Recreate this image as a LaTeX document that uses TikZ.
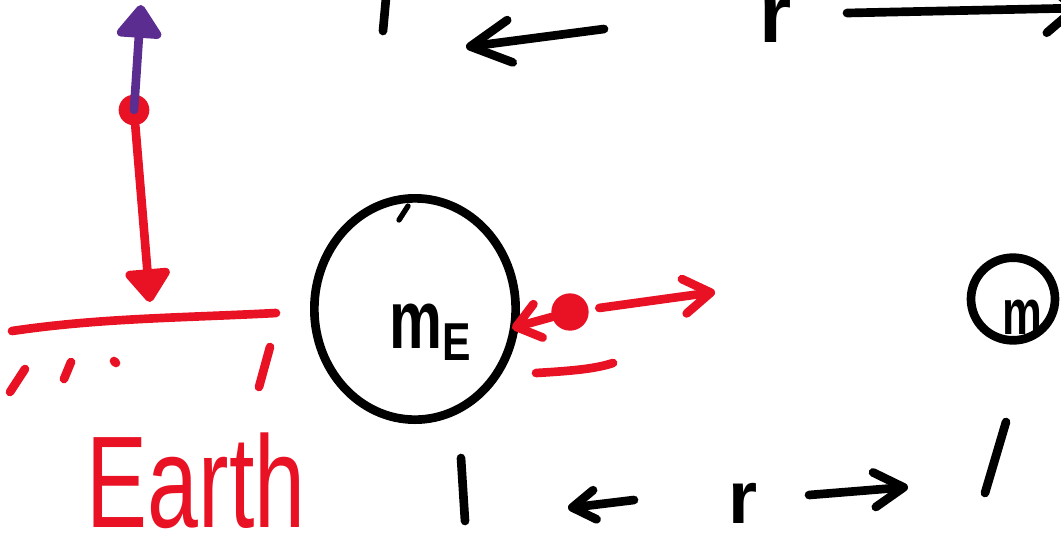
\documentclass[tikz,border=0pt]{standalone}
\usepackage{fontspec}
\setmainfont{Liberation Sans}
\usepackage{tikz}
\usetikzlibrary{arrows.meta, shapes.geometric}
\definecolor{inkred}{HTML}{E81224}
\definecolor{inkpurple}{HTML}{5C2D91}

\begin{document}
\begin{tikzpicture}[
  x=0.75pt, y=-0.75pt,
  every node/.style={inner sep=0pt},
  inkline/.style={line width=6.5pt, line cap=round, line join=round},
  redline/.style={inkline, draw=inkred},
  blackline/.style={inkline, draw=black},
  purpleline/.style={inkline, draw=inkpurple},
  reddot/.style={circle, fill=inkred, inner sep=0pt, minimum size=#1},
  massring/.style={ellipse, draw=black, line width=6.5pt, inner sep=0pt},
  handtext/.style={font=\fontsize{#1}{#1}\selectfont\bfseries},
  handthin/.style={font=\fontsize{#1}{#1}\selectfont},
  headfill/.style={-{Triangle[length=27pt, width=38pt, round]}},
  headbarb/.style 2 args={-{Straight Barb[length=#1, width=#2, round]}}
]
  \useasboundingbox (0,0) rectangle (1061,537);
  \clip (0,0) rectangle (1061,537);

  % Earth surface, test mass and forces
  \node[reddot=23pt] (dotA) at (134,110) {};
  \coordinate (groundtip) at (150,302);
  \coordinate (uptip) at (141,5);
  \draw[redline, headfill] (dotA) -- (groundtip);
  \draw[purpleline, headfill] (dotA.center) -- (uptip);

  \draw[redline] (12,331) .. controls (100,318) and (180,318) .. (276,313);
  \draw[redline] (10,392) -- (25,369);
  \draw[redline] (64,379) -- (71,362);
  \draw[redline] (114,361) -- (116,363);
  \draw[redline] (259,387) -- (270,347);

  \node[handthin=98, text=inkred, anchor=base] (earthlabel) at (196,527)
    {\scalebox{0.7}[1]{Earth}};

  % the big mass
  \node[massring, minimum width=151pt, minimum height=166pt] (mE) at (415,309) {};
  \draw[blackline, line width=4pt] (399,220) -- (408,206);
  \node[handtext=62, anchor=base] (mElabel) at (430,348)
    {\scalebox{0.72}[1]{m}\raisebox{-9pt}{\fontsize{40}{40}\selectfont\scalebox{0.8}[1]{E}}};

  % test mass next to it
  \node[reddot=28pt] (dotB) at (570,312) {};
  \coordinate (mEhit) at (512,328);
  \coordinate (awaytip) at (715,292);
  \draw[redline, headbarb={17pt}{26pt}] (dotB) -- (mEhit);
  \draw[redline, headbarb={20pt}{26pt}, shorten <=8pt] (dotB) -- (awaytip);
  \draw[redline] (536,373) .. controls (570,371) and (595,369) .. (613,363);

  % the small mass
  \node[massring, minimum width=63pt, minimum height=62pt] (mS) at (1013,299) {};
  \node[handtext=48, anchor=base] (mSlabel) at (1022,334) {\scalebox{0.7}[1]{m}};

  % separation r, bottom
  \draw[blackline] (461,458) -- (465,521);
  \draw[blackline] (1006,422) -- (985,493);
  \node[handtext=56, anchor=base] (rbot) at (743,523) {r};
  \coordinate (rbotL1) at (634,500);
  \coordinate (rbotL2) at (568,508);
  \coordinate (rbotR1) at (809,495);
  \coordinate (rbotR2) at (908,487);
  \draw[blackline, headbarb={17pt}{22pt}] (rbotL1) -- (rbotL2);
  \draw[blackline, headbarb={22pt}{26pt}] (rbotR1) -- (rbotR2);

  % separation r, top
  \draw[blackline] (386,-2) -- (383,31);
  \node[handtext=62, anchor=base] (rtop) at (776,42) {r};
  \coordinate (rtopL1) at (604,29);
  \coordinate (rtopL2) at (466,47);
  \coordinate (rtopR1) at (847,13);
  \coordinate (rtopR2) at (1080,8);
  \draw[blackline, headbarb={30pt}{32pt}] (rtopL1) -- (rtopL2);
  \draw[blackline, headbarb={22pt}{36pt}] (rtopR1) -- (rtopR2);
\end{tikzpicture}
\end{document}
